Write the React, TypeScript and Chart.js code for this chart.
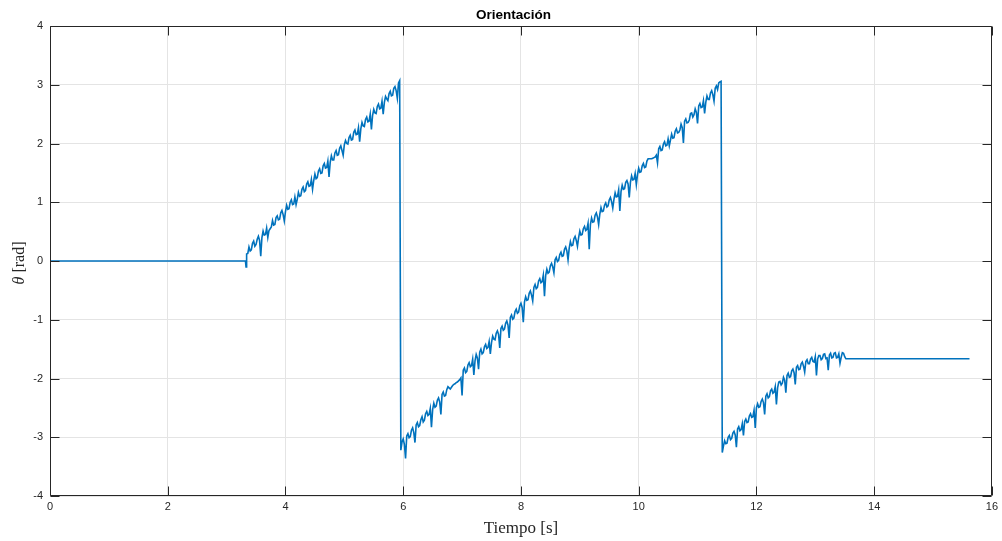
import React, { useEffect, useRef } from "react";
import { Chart, registerables } from "chart.js";

Chart.register(...registerables);

// ---- data (time in s, orientation in rad) ----
const holdZeroTimes = [0, 3.32, 3.33];
const holdZeroValues = [0, 0, -0.1];

const rampStep = 0.02;

const ramp1Start = 3.34;
const ramp1Values = [
  0.12, 0.13, 0.24, 0.17, 0.19, 0.3, 0.34, 0.25, 0.28, 0.37,
  0.42, 0.35, 0.08, 0.4, 0.51, 0.44, 0.45, 0.56, 0.4, 0.52,
  0.55, 0.58, 0.69, 0.61, 0.62, 0.74, 0.77, 0.7, 0.71, 0.82,
  0.86, 0.79, 0.68, 0.84, 0.95, 0.88, 0.89, 1.0, 1.04, 0.96,
  0.97, 1.09, 0.96, 1.05, 1.17, 1.1, 1.11, 1.22, 1.26, 1.18,
  1.2, 1.31, 1.35, 1.27, 1.28, 1.39, 1.22, 1.37, 1.48, 1.4,
  1.42, 1.53, 1.57, 1.49, 1.5, 1.62, 1.66, 1.58, 1.59, 1.7,
  1.43, 1.68, 1.79, 1.72, 1.72, 1.84, 1.88, 1.8, 1.81, 1.92,
  1.96, 1.88, 1.8, 1.98, 2.05, 2.0, 1.99, 2.1, 2.14, 2.06,
  2.07, 2.19, 2.23, 2.15, 2.16, 2.27, 2.03, 2.25, 2.36, 2.3,
  2.29, 2.41, 2.45, 2.37, 2.38, 2.5, 2.24, 2.48, 2.58, 2.52,
  2.51, 2.63, 2.67, 2.59, 2.6, 2.72, 2.5, 2.7, 2.8, 2.76,
  2.73, 2.85, 2.89, 2.81, 2.82, 2.94, 2.97, 2.9, 2.77, 3.03,
  3.07,
];

const ramp2Start = 5.96;
const ramp2Values = [
  -3.22, -3.08, -3.03, -3.12, -3.36, -2.98, -2.94, -3.01, -2.99, -2.88,
  -2.84, -2.92, -3.09, -2.79, -2.75, -2.82, -2.8, -2.7, -2.65, -2.74,
  -2.71, -2.6, -2.56, -2.63, -2.61, -2.51, -2.83, -2.53, -2.42, -2.49,
  -2.47, -2.37, -2.33, -2.4, -2.61, -2.27, -2.23, -2.3, -2.29, -2.19,
  -2.14, -2.16, -2.18, -2.15, -2.12, -2.1, -2.09, -2.07, -2.06, -2.04,
  -2.02, -1.99, -2.29, -1.86, -1.82, -1.9, -1.88, -1.77, -1.73, -1.8,
  -1.78, -1.67, -1.94, -1.7, -1.59, -1.65, -1.84, -1.55, -1.5, -1.58,
  -1.56, -1.46, -1.42, -1.49, -1.47, -1.37, -1.58, -1.39, -1.28, -1.33,
  -1.34, -1.23, -1.19, -1.25, -1.48, -1.15, -1.11, -1.18, -1.16, -1.06,
  -1.02, -1.09, -1.31, -0.96, -0.92, -0.99, -0.97, -0.86, -0.82, -0.89,
  -0.87, -0.76, -0.72, -0.79, -1.04, -0.7, -0.61, -0.67, -0.66, -0.55,
  -0.51, -0.58, -0.68, -0.45, -0.4, -0.47, -0.45, -0.34, -0.3, -0.37,
  -0.35, -0.24, -0.6, -0.25, -0.14, -0.21, -0.19, -0.08, -0.04, -0.1,
  -0.2, 0.02, 0.06, -0.01, 0.01, 0.11, 0.15, 0.08, 0.09, 0.2,
  0.24, 0.17, 0.02, 0.22, 0.33, 0.26, 0.27, 0.38, 0.42, 0.35,
  0.25, 0.4, 0.51, 0.44, 0.45, 0.55, 0.59, 0.52, 0.54, 0.64,
  0.2, 0.62, 0.73, 0.66, 0.67, 0.78, 0.82, 0.75, 0.62, 0.8,
  0.91, 0.84, 0.85, 0.95, 0.99, 0.92, 0.94, 1.04, 1.08, 1.01,
  0.9, 1.05, 1.16, 1.09, 1.1, 1.21, 0.85, 1.18, 1.29, 1.22,
  1.23, 1.34, 1.37, 1.31, 1.08, 1.34, 1.45, 1.38, 1.39, 1.49,
  1.3, 1.47, 1.58, 1.51, 1.52, 1.62, 1.66, 1.59, 1.6, 1.7,
  1.74, 1.74, 1.74, 1.74, 1.75, 1.76, 1.77, 1.8, 1.67, 1.91,
  1.95, 1.88, 1.89, 1.99, 2.03, 1.96, 1.97, 2.08, 1.96, 2.06,
  2.16, 2.09, 2.1, 2.21, 2.25, 2.18, 2.19, 2.23, 2.33, 2.27,
  2.01, 2.38, 2.42, 2.35, 2.36, 2.4, 2.51, 2.52, 2.45, 2.49,
  2.59, 2.53, 2.34, 2.64, 2.68, 2.61, 2.62, 2.73, 2.51, 2.7,
  2.81, 2.75, 2.75, 2.86, 2.9, 2.83, 2.72, 2.94, 2.98, 2.92,
  3.03, 3.05, 3.06,
];

const ramp3Start = 11.42;
const ramp3Values = [
  -3.26, -3.15, -3.06, -3.11, -3.1, -3.0, -2.97, -3.04, -3.02, -2.93,
  -2.9, -2.96, -3.17, -2.86, -2.82, -2.89, -2.87, -2.77, -2.97, -2.73,
  -2.69, -2.75, -2.74, -2.64, -2.6, -2.66, -2.65, -2.54, -2.84, -2.5,
  -2.43, -2.49, -2.48, -2.39, -2.35, -2.41, -2.61, -2.3, -2.26, -2.33,
  -2.31, -2.21, -2.18, -2.25, -2.23, -2.14, -2.44, -2.16, -2.06, -2.05,
  -2.11, -2.08, -1.98, -2.03, -2.24, -1.95, -1.91, -1.98, -1.97, -1.87,
  -1.84, -1.9, -2.1, -1.81, -1.78, -1.85, -1.84, -1.75, -1.72, -1.79,
  -1.89, -1.71, -1.68, -1.75, -1.75, -1.67, -1.64, -1.71, -1.72, -1.63,
  -1.95, -1.67, -1.61, -1.61, -1.68, -1.66, -1.59, -1.58, -1.66, -1.65,
  -1.86, -1.6, -1.57, -1.65, -1.64, -1.57, -1.56, -1.65, -1.64, -1.58,
  -1.74, -1.64, -1.56, -1.57, -1.63,
];

const holdEndTimes = [13.52, 15.62];
const holdEndValues = [-1.665, -1.665];

const xTicks = [0, 2, 4, 6, 8, 10, 12, 14, 16];
const yTicks = [-4, -3, -2, -1, 0, 1, 2, 3, 4];

const titleText = "Orientación";
const xLabelText = "Tiempo [s]";

function buildPoints() {
  const pts: { x: number; y: number }[] = [];
  holdZeroTimes.forEach((t, i) => pts.push({ x: t, y: holdZeroValues[i] }));
  ramp1Values.forEach((v, i) => pts.push({ x: +(ramp1Start + i * rampStep).toFixed(3), y: v }));
  ramp2Values.forEach((v, i) => pts.push({ x: +(ramp2Start + i * rampStep).toFixed(3), y: v }));
  ramp3Values.forEach((v, i) => pts.push({ x: +(ramp3Start + i * rampStep).toFixed(3), y: v }));
  holdEndTimes.forEach((t, i) => pts.push({ x: t, y: holdEndValues[i] }));
  return pts;
}

const AXIS = "#262626";

const framePlugin = {
  id: "matlabFrame",
  afterDraw(chart: any) {
    const { ctx, chartArea } = chart;
    const xs = chart.scales.x;
    const ys = chart.scales.y;
    const L = Math.round(chartArea.left) + 0.5;
    const R = Math.round(chartArea.right) - 0.5;
    const T = Math.round(chartArea.top) + 0.5;
    const B = Math.round(chartArea.bottom) - 0.5;
    ctx.save();
    ctx.strokeStyle = AXIS;
    ctx.lineWidth = 1;
    ctx.beginPath();
    ctx.rect(L, T, R - L, B - T);
    const tl = 9;
    xTicks.forEach((v) => {
      const px = Math.round(xs.getPixelForValue(v)) + 0.5;
      ctx.moveTo(px, B);
      ctx.lineTo(px, B - tl);
      ctx.moveTo(px, T);
      ctx.lineTo(px, T + tl);
    });
    yTicks.forEach((v) => {
      const py = Math.round(ys.getPixelForValue(v)) + 0.5;
      ctx.moveTo(L, py);
      ctx.lineTo(L + tl, py);
      ctx.moveTo(R, py);
      ctx.lineTo(R - tl, py);
    });
    ctx.stroke();

    // title
    ctx.fillStyle = "#000000";
    ctx.font = 'bold 13.5px "Liberation Sans", Arial, Helvetica, sans-serif';
    ctx.textAlign = "center";
    ctx.textBaseline = "alphabetic";
    ctx.fillText(titleText, 513.5, 18.5);

    // x label
    ctx.fillStyle = AXIS;
    ctx.font = '17px "Liberation Serif", "DejaVu Serif", serif';
    ctx.fillText(xLabelText, (chartArea.left + chartArea.right) / 2, 533);

    // y label: italic theta + upright [rad]
    ctx.save();
    ctx.translate(24, 263);
    ctx.rotate(-Math.PI / 2);
    const thetaFont = 'italic 16px "Liberation Serif", "DejaVu Serif", serif';
    const radFont = '16px "Liberation Serif", "DejaVu Serif", serif';
    ctx.font = thetaFont;
    const wTheta = ctx.measureText("θ").width;
    ctx.font = radFont;
    const wRad = ctx.measureText(" [rad]").width;
    const start = -(wTheta + wRad) / 2;
    ctx.textAlign = "left";
    ctx.font = thetaFont;
    ctx.fillText("θ", start, 0);
    ctx.font = radFont;
    ctx.fillText(" [rad]", start + wTheta, 0);
    ctx.restore();

    ctx.restore();
  },
};

export default function App() {
  const canvasRef = useRef<HTMLCanvasElement | null>(null);

  useEffect(() => {
    const canvas = canvasRef.current;
    if (!canvas) return;
    const chart = new Chart(canvas, {
      type: "scatter",
      data: {
        datasets: [
          {
            data: buildPoints(),
            showLine: true,
            borderColor: "#0072BD",
            backgroundColor: "#0072BD",
            borderWidth: 1.6,
            pointRadius: 0,
            pointHoverRadius: 0,
            tension: 0,
          },
        ],
      },
      options: {
        responsive: false,
        animation: false,
        devicePixelRatio: 1,
        layout: { padding: { top: 26, right: 10, left: 0, bottom: 0 } },
        plugins: {
          legend: { display: false },
          title: { display: false },
          tooltip: { enabled: false },
        },
        scales: {
          x: {
            type: "linear",
            min: 0,
            max: 16,
            afterFit: (s: any) => {
              s.height = 45;
            },
            afterBuildTicks: (s: any) => {
              s.ticks = xTicks.map((v) => ({ value: v }));
            },
            ticks: {
              padding: 4,
              color: AXIS,
              font: { family: '"Liberation Sans", Arial, Helvetica, sans-serif', size: 11 },
              maxRotation: 0,
              autoSkip: false,
              callback: (v: any) => String(v),
            },
            grid: { color: "#e4e4e4", lineWidth: 1, drawTicks: false },
            border: { display: false },
          },
          y: {
            type: "linear",
            min: -4,
            max: 4,
            afterFit: (s: any) => {
              s.width = 50;
            },
            afterBuildTicks: (s: any) => {
              s.ticks = yTicks.map((v) => ({ value: v }));
            },
            ticks: {
              padding: 7,
              color: AXIS,
              font: { family: '"Liberation Sans", Arial, Helvetica, sans-serif', size: 11 },
              autoSkip: false,
              callback: (v: any) => String(v),
            },
            grid: { color: "#e4e4e4", lineWidth: 1, drawTicks: false },
            border: { display: false },
          },
        },
      },
      plugins: [framePlugin],
    });
    return () => chart.destroy();
  }, []);

  return (
    <div style={{ position: "fixed", left: 0, top: 0, width: 1002, height: 541, background: "#fff" }}>
      <canvas ref={canvasRef} width={1002} height={541} style={{ display: "block" }} />
    </div>
  );
}
